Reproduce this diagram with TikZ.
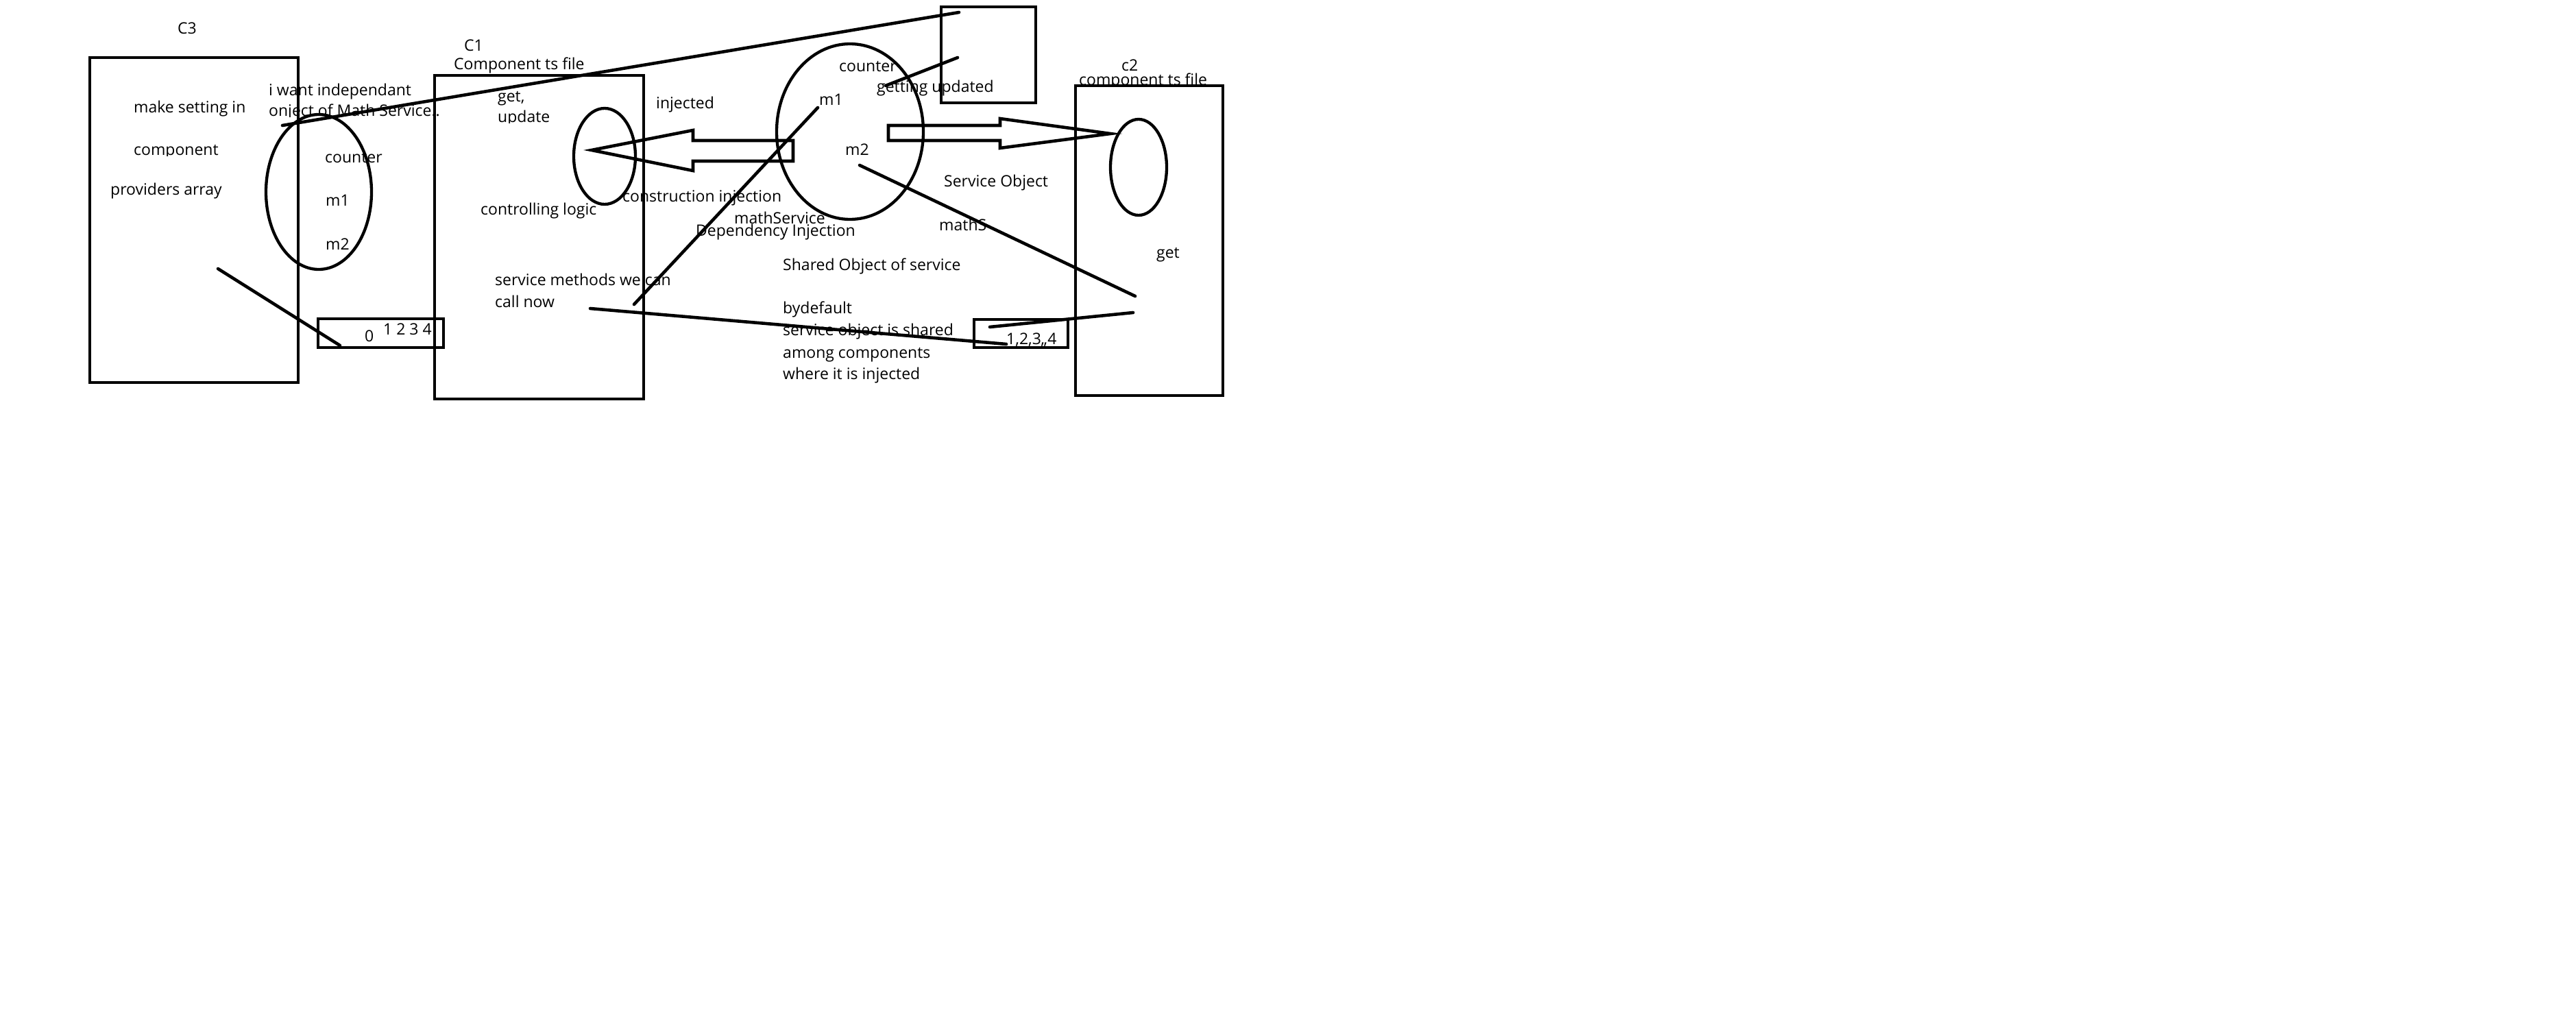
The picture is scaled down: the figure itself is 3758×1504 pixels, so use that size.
\documentclass[tikz,border=0pt]{standalone}
\usepackage{fontspec}
\setmainfont{Open Sans}
\usetikzlibrary{shapes.geometric}
\begin{document}
\begin{tikzpicture}[x=1pt,y=-1pt,
  stroke/.style={line width=4.6pt, line cap=round, line join=round},
  frame/.style={draw, line width=4.6pt, rectangle, inner sep=0pt},
  oval/.style={draw, line width=4.3pt, ellipse, inner sep=0pt},
  txt/.style={anchor=west, inner sep=0pt, text height=18pt, text depth=3pt, font=\fontsize{23}{31}\selectfont}]
\fill[white] (0,0) rectangle (3758,1504);
\useasboundingbox (0,0) rectangle (3758,1504);

% ---- C3 ----
\node[txt] (tc3) at (259,42) {C3};
\node[frame, minimum width=304pt, minimum height=474pt] (c3) at (283,321) {};
\node[txt] (tmake) at (195,157) {make setting in};
\begin{scope}
  \clip (150,190) rectangle (400,227);
  \node[txt] (tcomp) at (195,219) {component};
\end{scope}
\node[txt] (tprov) at (161,277) {providers array};
\node[oval, minimum width=154pt, minimum height=226pt] (e3) at (465,280) {};
\node[txt] (tcnt3) at (474,230) {counter};
\node[txt] (tm13) at (475,293) {m1};
\node[txt] (tm23) at (475,357) {m2};
\node[txt] (twant) at (392,132) {i want independant};
\begin{scope}
  \clip (380,145) rectangle (700,170);
  \node[txt] (tobj) at (392,162) {onject of Math Service..};
\end{scope}
\node[frame, minimum width=183pt, minimum height=42pt] (b0) at (555.5,486) {};
\node[txt] (tzero) at (532,491) {0};
\node[txt] (tnums) at (559,481) {1 2 3 4};

% ---- C1 ----
\node[txt] (tc1) at (677,67) {C1};
\node[txt] (tcts) at (662,94) {Component ts file};
\node[frame, minimum width=305pt, minimum height=472pt] (c1) at (786.5,346) {};
\node[txt] (tget) at (726,141) {get,};
\begin{scope}
  \clip (700,150) rectangle (850,179);
  \node[txt] (tupd) at (726,171) {update};
\end{scope}
\node[oval, minimum width=90pt, minimum height=140pt] (e1) at (882,228) {};
\node[txt] (tctrl) at (701,306) {controlling logic};
\node[txt] (tserv) at (722,409) {service methods we can};
\node[txt] (tcall) at (722,441) {call now};
\node[txt] (tinj) at (957,151) {injected};
\node[txt] (tcons) at (908,287) {construction injection};
\node[txt] (tmath) at (1071,319) {mathService};
\node[txt] (tdep) at (1015,337) {Dependency Injection};

% ---- service object ----
\node[oval, minimum width=214pt, minimum height=256pt] (es) at (1240,192) {};
\node[txt] (tcnts) at (1224,97) {counter};
\node[txt] (tupdd) at (1279,127) {getting updated};
\node[txt] (tm1s) at (1195,146) {m1};
\node[txt] (tm2s) at (1233,219) {m2};
\node[frame, minimum width=138pt, minimum height=140pt] (top) at (1442,80) {};
\node[txt] (tso) at (1377,265) {Service Object};
\node[txt] (tmaths) at (1370,329) {mathS};
\node[txt] (tshared) at (1142,387) {Shared Object of service};
\node[txt] (tbyd) at (1142,450) {bydefault};
\node[txt] (tsos) at (1142,482) {service object is shared};
\node[txt] (tamong) at (1142,515) {among components};
\node[txt] (twhere) at (1142,546) {where it is injected};
\node[frame, minimum width=137pt, minimum height=41pt] (b1) at (1489.5,486.5) {};
\node[txt] (tnums2) at (1468,495) {1,2,3,,4};

% ---- c2 ----
\node[txt] (tc2) at (1636,96) {c2};
\begin{scope}
  \clip (1550,80) rectangle (1800,125);
  \node[txt] (tc2ts) at (1574,117) {component ts file};
\end{scope}
\node[frame, minimum width=215pt, minimum height=452pt] (c2) at (1676.5,351) {};
\node[oval, minimum width=82pt, minimum height=140pt] (e2) at (1661,244) {};
\node[txt] (tget2) at (1687,369) {get};

% ---- block arrows ----
\coordinate (la) at (863,219);
\coordinate (ra) at (1620,195);
\draw[stroke, line cap=butt, line join=miter] (la) -- (1011,190) -- (1011,205) -- (1157,205) -- (1157,235) -- (1011,235) -- (1011,249) -- cycle;
\draw[stroke, line cap=butt, line join=miter] (1296,183) -- (1459,183) -- (1459,173) -- (ra) -- (1459,216) -- (1459,205) -- (1296,205) -- cycle;

% ---- connectors ----
\coordinate (p1a) at (412,183);  \coordinate (p1b) at (1399,18);
\coordinate (p2a) at (1397,84);  \coordinate (p2b) at (1292,125);
\coordinate (p3a) at (318,392);  \coordinate (p3b) at (496,504);
\coordinate (p4a) at (1193,157); \coordinate (p4b) at (925,444);
\coordinate (p5a) at (861,450);  \coordinate (p5b) at (1468,502);
\coordinate (p6a) at (1254,241); \coordinate (p6b) at (1656,432);
\coordinate (p7a) at (1653,456); \coordinate (p7b) at (1444,477);
\draw[stroke] (p1a) -- (p1b);
\draw[stroke] (p2a) -- (p2b);
\draw[stroke] (p3a) -- (p3b);
\draw[stroke] (p4a) -- (p4b);
\draw[stroke] (p5a) -- (p5b);
\draw[stroke] (p6a) -- (p6b);
\draw[stroke] (p7a) -- (p7b);
\end{tikzpicture}
\end{document}
